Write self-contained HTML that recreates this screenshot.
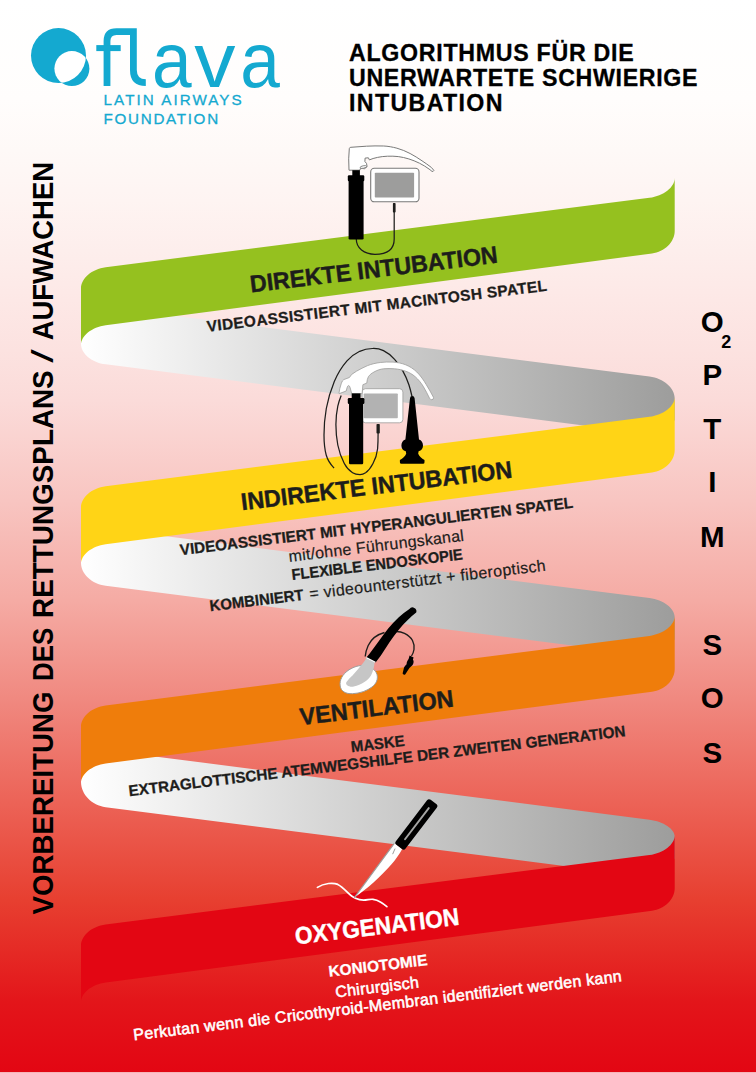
<!DOCTYPE html>
<html lang="de"><head><meta charset="utf-8"><title>Algorithmus für die unerwartete schwierige Intubation</title>
<style>
html,body{margin:0;padding:0;background:#fff;}
body{width:756px;height:1073px;overflow:hidden;font-family:"Liberation Sans",sans-serif;}
svg{display:block;font-family:"Liberation Sans",sans-serif;}
</style></head><body>
<svg width="756" height="1073" viewBox="0 0 756 1073">
<defs>
<linearGradient id="bg" x1="0" y1="0" x2="0" y2="1">
<stop offset="0" stop-color="#ffffff"/>
<stop offset="0.093" stop-color="#fffdfc"/>
<stop offset="0.140" stop-color="#fef9f7"/>
<stop offset="0.187" stop-color="#fef4f2"/>
<stop offset="0.234" stop-color="#fdeeec"/>
<stop offset="0.280" stop-color="#fde8e6"/>
<stop offset="0.327" stop-color="#fce2e0"/>
<stop offset="0.374" stop-color="#fbdbd9"/>
<stop offset="0.467" stop-color="#f8c5c1"/>
<stop offset="0.56" stop-color="#f5aba4"/>
<stop offset="0.654" stop-color="#f0887f"/>
<stop offset="0.748" stop-color="#ec6357"/>
<stop offset="0.84" stop-color="#e73f30"/>
<stop offset="0.935" stop-color="#e3151a"/>
<stop offset="1" stop-color="#e30613"/>
</linearGradient>
<linearGradient id="gg" gradientUnits="userSpaceOnUse" x1="81.0" y1="0" x2="674.7" y2="0">
<stop offset="0" stop-color="#ffffff"/>
<stop offset="1" stop-color="#9d9d9c"/>
</linearGradient>
<clipPath id="bigc"><circle cx="58.5" cy="55.6" r="27.5"/></clipPath>
</defs>
<rect x="0" y="0" width="756" height="1072.3" fill="url(#bg)"/>

<g id="ribbon">
<path d="M81.0,343.9 C81.0,353.5 91.9,362.5 105.7,364.3 L657.5,434.9 L674.7,420.3 L674.7,398.3 C674.7,387.9 663.6,378.3 649.5,376.5 L105.7,307.0 L81.0,323.9 Z" fill="url(#gg)"/>
<path d="M81.0,563.0 C81.0,574.0 91.9,584.0 105.7,585.8 L657.5,656.4 L674.7,639.4 L674.7,617.4 C674.7,608.4 663.6,599.9 649.5,598.1 L105.7,528.6 L81.0,543.0 Z" fill="url(#gg)"/>
<path d="M81.0,782.1 C81.0,794.4 91.9,805.5 105.7,807.3 L657.5,877.9 L674.7,858.5 L674.7,836.5 C674.7,828.9 663.6,821.5 649.5,819.7 L105.7,750.2 L81.0,762.1 Z" fill="url(#gg)"/>
<path d="M674.7,177.9 C674.7,187.2 663.6,195.9 649.5,197.7 L105.7,267.2 C91.9,269.0 81.0,278.3 81.0,288.4 L81.0,344.9 C81.0,335.7 91.9,327.1 105.7,325.2 L652.0,253.5 C664.7,251.8 674.7,241.9 674.7,231.0 Z" fill="#95c11f"/>
<path d="M674.7,397.0 C674.7,406.3 663.6,415.0 649.5,416.8 L105.7,486.3 C91.9,488.1 81.0,497.4 81.0,507.5 L81.0,564.0 C81.0,554.8 91.9,546.2 105.7,544.3 L652.0,472.6 C664.7,470.9 674.7,461.0 674.7,450.1 Z" fill="#ffd416"/>
<path d="M674.7,616.1 C674.7,625.4 663.6,634.1 649.5,635.9 L105.7,705.4 C91.9,707.2 81.0,716.5 81.0,726.6 L81.0,783.1 C81.0,773.9 91.9,765.3 105.7,763.4 L652.0,691.7 C664.7,690.0 674.7,680.1 674.7,669.2 Z" fill="#ef7d0b"/>
<path d="M674.7,835.2 C674.7,844.5 663.6,853.2 649.5,855.0 L105.7,924.5 C91.9,926.3 81.0,935.6 81.0,945.7 L81.0,1002.2 C81.0,993.0 91.9,984.4 105.7,982.5 L652.0,910.8 C664.7,909.1 674.7,899.2 674.7,888.3 Z" fill="#e30613"/>
</g>
<g id="logo" fill="#14a9d0">
<circle cx="58.5" cy="55.6" r="27.5"/>
<circle cx="71.9" cy="68.6" r="17.5"/>
<circle cx="71.9" cy="68.6" r="17.5" fill="#fff" clip-path="url(#bigc)"/>
<g font-size="77">
<text x="152.1" y="86.8" textLength="39.6" lengthAdjust="spacingAndGlyphs">a</text>
<text x="194.3" y="86.8" textLength="41.2" lengthAdjust="spacingAndGlyphs">v</text>
<text x="240.2" y="86.8" textLength="39.6" lengthAdjust="spacingAndGlyphs">a</text>
</g>
<g fill="none" stroke="#14a9d0" stroke-width="6.8">
<path d="M107,86 V41 Q107,31.6 116.5,31.6 H133.4 V70 Q133.4,82.7 145.8,82.7"/>
<path d="M96.3,48.1 H120.7" stroke-width="6"/>
</g>
<g font-size="15.2" stroke="#14a9d0" stroke-width="0.3">
<text x="103.6" y="105" textLength="138" lengthAdjust="spacing">LATIN AIRWAYS</text>
<text x="103.6" y="124" textLength="114.5" lengthAdjust="spacing">FOUNDATION</text>
</g>
</g>

<g id="title" font-weight="bold" font-size="23.2" fill="#000" stroke="#000" stroke-width="0.3">
<text x="349" y="61.4" textLength="284.6" lengthAdjust="spacing">ALGORITHMUS FÜR DIE</text>
<text x="349" y="86.1" textLength="348.5" lengthAdjust="spacing">UNERWARTETE SCHWIERIGE</text>
<text x="349" y="110.8" textLength="153.5" lengthAdjust="spacing">INTUBATION</text>
</g>

<g id="lefttext" transform="translate(53 0) rotate(-90)" font-size="29" font-weight="bold" fill="#000">
<text x="-914.4" y="0" textLength="222.9" lengthAdjust="spacingAndGlyphs">VORBEREITUNG</text>
<text x="-680.9" y="0" textLength="53.3" lengthAdjust="spacingAndGlyphs">DES</text>
<text x="-617.9" y="0" textLength="247.6" lengthAdjust="spacingAndGlyphs">RETTUNGSPLANS</text>
<text x="-362.7" y="0" font-weight="normal" textLength="13.5" lengthAdjust="spacingAndGlyphs">/</text>
<text x="-340.3" y="0" textLength="178.3" lengthAdjust="spacingAndGlyphs">AUFWACHEN</text>
</g>
<g id="optim" font-size="29.5" font-weight="bold" fill="#000" text-anchor="middle">
<text x="712.3" y="331.5">O</text>
<text x="712.3" y="384.7">P</text>
<text x="712.3" y="438.5">T</text>
<text x="712.3" y="492.3">I</text>
<text x="712.3" y="546.5">M</text>
<text x="712.3" y="654.7">S</text>
<text x="712.3" y="708.3">O</text>
<text x="712.3" y="762.5">S</text>
<text x="726.3" y="347.7" font-size="18">2</text>
</g>
<g id="bandtext">
<text x="374.75" y="277.55" font-size="24" font-weight="bold" fill="#1d1d1b" text-anchor="middle" transform="rotate(-6.9 374.75 277.55)" textLength="249.1" lengthAdjust="spacingAndGlyphs" stroke="#1d1d1b" stroke-width="0.45">DIREKTE INTUBATION</text>
<text x="377.4" y="311.3" font-size="15.4" font-weight="bold" fill="#1d1d1b" text-anchor="middle" transform="rotate(-6.9 377.4 311.3)" textLength="342.3" lengthAdjust="spacing" stroke="#1d1d1b" stroke-width="0.3">VIDEOASSISTIERT MIT MACINTOSH SPATEL</text>
<text x="377.5" y="493.9" font-size="24" font-weight="bold" fill="#1d1d1b" text-anchor="middle" transform="rotate(-6.9 377.5 493.9)" textLength="272.8" lengthAdjust="spacingAndGlyphs" stroke="#1d1d1b" stroke-width="0.45">INDIREKTE INTUBATION</text>
<text x="377.1" y="531.45" font-size="15.4" font-weight="bold" fill="#1d1d1b" text-anchor="middle" transform="rotate(-6.9 377.1 531.45)" textLength="395.9" lengthAdjust="spacingAndGlyphs" stroke="#1d1d1b" stroke-width="0.3">VIDEOASSISTIERT MIT HYPERANGULIERTEN SPATEL</text>
<text x="376.8" y="551.3" font-size="16" font-weight="normal" fill="#1d1d1b" text-anchor="middle" transform="rotate(-6.9 376.8 551.3)" textLength="176.1" lengthAdjust="spacing" stroke="#1d1d1b" stroke-width="0.2">mit/ohne Führungskanal</text>
<text x="377.75" y="569.75" font-size="15.4" font-weight="bold" fill="#1d1d1b" text-anchor="middle" transform="rotate(-6.9 377.75 569.75)" textLength="172.3" lengthAdjust="spacingAndGlyphs" stroke="#1d1d1b" stroke-width="0.3">FLEXIBLE ENDOSKOPIE</text>
<g transform="rotate(-6.9 378.2 590.9)" fill="#1d1d1b"><text x="209.1" y="590.90" font-size="15.4" font-weight="bold" stroke="#1d1d1b" stroke-width="0.3" textLength="94.5" lengthAdjust="spacingAndGlyphs">KOMBINIERT</text><text x="309.4" y="590.90" font-size="16" stroke="#1d1d1b" stroke-width="0.2" textLength="238" lengthAdjust="spacing">= videounterstützt + fiberoptisch</text></g>
<text x="377.55" y="715.85" font-size="24" font-weight="bold" fill="#1d1d1b" text-anchor="middle" transform="rotate(-6.9 377.55 715.85)" textLength="154.8" lengthAdjust="spacingAndGlyphs" stroke="#1d1d1b" stroke-width="0.45">VENTILATION</text>
<text x="378.35" y="749.05" font-size="15.4" font-weight="bold" fill="#1d1d1b" text-anchor="middle" transform="rotate(-6.9 378.35 749.05)" textLength="54.1" lengthAdjust="spacingAndGlyphs" stroke="#1d1d1b" stroke-width="0.3">MASKE</text>
<text x="377.6" y="766.15" font-size="15.4" font-weight="bold" fill="#1d1d1b" text-anchor="middle" transform="rotate(-6.9 377.6 766.15)" textLength="500.4" lengthAdjust="spacingAndGlyphs" stroke="#1d1d1b" stroke-width="0.3">EXTRAGLOTTISCHE ATEMWEGSHILFE DER ZWEITEN GENERATION</text>
<text x="377.95" y="934.55" font-size="24" font-weight="bold" fill="#fff" text-anchor="middle" transform="rotate(-6.9 377.95 934.55)" textLength="165.2" lengthAdjust="spacingAndGlyphs" stroke="#fff" stroke-width="0.45">OXYGENATION</text>
<text x="378.55" y="970.9" font-size="15.4" font-weight="bold" fill="#fff" text-anchor="middle" transform="rotate(-6.9 378.55 970.9)" textLength="99.3" lengthAdjust="spacing" stroke="#fff" stroke-width="0.3">KONIOTOMIE</text>
<text x="377.6" y="992.45" font-size="16" font-weight="normal" fill="#fff" text-anchor="middle" transform="rotate(-6.9 377.6 992.45)" textLength="83.9" lengthAdjust="spacing" stroke="#fff" stroke-width="0.55">Chirurgisch</text>
<text x="378.15" y="1010.75" font-size="16" font-weight="normal" fill="#fff" text-anchor="middle" transform="rotate(-6.9 378.15 1010.75)" textLength="491.6" lengthAdjust="spacing" stroke="#fff" stroke-width="0.55">Perkutan wenn die Cricothyroid-Membran identifiziert werden kann</text>
</g>
<g id="icon1">
<!-- cable -->
<path d="M394.2,203 V239 C394.2,250 386,254.3 375,254.3 C364,254.3 356.3,248 356.3,239" fill="none" stroke="#1d1d1b" stroke-width="1.25"/>
<rect x="392.9" y="203" width="2.7" height="9.6" rx="0.8" fill="#1d1d1b"/>
<!-- blade -->
<path d="M349,170.2 L348.7,158.8 L349.3,148.6 Q349.5,147.4 350.8,147.3 L366.5,146.2 C372,145.9 378,145.8 383.7,146 C388,146.2 392.5,147 396.9,148.2 C401.5,149.5 406,151.3 410.1,153.5 C414.3,155.7 418.2,158.2 422,160.8 C425.2,163 428.5,165.2 431.3,167.4 L433.9,170.4 Q433.3,171.8 432,171.4 L430,169.7 C428.3,168.5 426.5,167.2 424.7,166.1 C421.3,164 417.8,162.3 414.1,160.8 C410.6,159.4 407.1,158.3 403.5,157.5 C400,156.7 396.5,156.3 392.9,156.2 C389.3,156.1 385.8,156.2 382.3,156.6 C379.2,157 376.1,157.6 373.1,158.5 L369.4,159.9 L368.4,157.8 L365.1,158.1 L364.9,161.5 L366.5,163.4 L367.1,166.7 L364.5,168.7 L360.5,168.3 L359.8,170.2 Z" fill="#fff" stroke="#7a7a79" stroke-width="1" stroke-linejoin="round"/>
<ellipse cx="363.3" cy="167" rx="3.3" ry="1.2" transform="rotate(-12 363.3 167)" fill="#fff" stroke="#7a7a79" stroke-width="0.8"/>
<!-- handle -->
<rect x="352.3" y="170.2" width="7.6" height="6" fill="#000"/>
<rect x="347.8" y="175.2" width="16.5" height="6" rx="1.2" fill="#000"/>
<rect x="348.6" y="179" width="15" height="60.5" rx="1.2" fill="#000"/>
<!-- screen -->
<rect x="370.7" y="168.3" width="48.3" height="33.5" rx="3.6" fill="#fff" stroke="#7a7a79" stroke-width="1.1"/>
<rect x="374.8" y="172.7" width="39.3" height="24.9" rx="0.8" fill="#9d9d9c"/>
</g>
<g id="icon2">
<!-- outer cable loop (fiberscope) -->
<path d="M412,396.5 C411,392 410,388 408.9,384.7 C407,379 404.8,374.5 402.5,370.4 C400.2,366.3 397.6,362.6 394.6,359.3 C391.3,355.6 387.6,352.6 383.5,350.6 C380,349 376.2,348.3 372.4,348.5 C368,348.7 363.7,349.6 359.7,351.3 C355,353.5 350.8,356.8 347,360.9 C341.8,366.8 337.6,373.8 334.3,381.5 C330.8,390 328.1,399 326.3,408.5 C324.8,417 324,426 324,435 C324,442 324.6,449 326.2,455 C327.6,460 330.6,464.5 334.1,468.1" fill="none" stroke="#1d1d1b" stroke-width="1.25"/>
<!-- inner cable loop (screen) -->
<path d="M378.1,425 V433 C378.1,438.5 378,443.5 377.6,448.7 C377,454 375.5,459 373,463.5 C371.2,467 368.8,470.5 365.6,472.8 C363.8,474 362,474.6 360,474.6 C357.3,474.6 354.8,474.2 352.6,472.8 C349,470.5 346.2,467.2 344.3,463.5 C341.2,457.6 339,451.3 337.8,445 C336.5,438.3 335.9,431.4 335.9,424.6 C335.9,418.4 336.5,412.2 337.8,406.1 C338.6,402.5 339.6,399.5 341.2,395.5" fill="none" stroke="#1d1d1b" stroke-width="1.25"/>
<rect x="376.5" y="424" width="3.3" height="9.5" rx="0.8" fill="#1d1d1b"/>
<!-- screen -->
<rect x="362.1" y="388.7" width="40.8" height="34.1" rx="3.4" fill="#fff" stroke="#9d9d9c" stroke-width="0.8"/>
<rect x="363.7" y="393.4" width="34.1" height="24.9" rx="0.8" fill="#b2b2b2"/>
<!-- blade -->
<path d="M339,393 L339.8,388.5 L341.4,383.1 Q342.2,380.6 343.8,379.6 L349.4,377.5 L351.7,374.4 L356.5,371.2 C360,369.2 363.8,367.2 367.6,365.6 C371.7,364 376,363 380.3,362.5 C384.5,362 388.8,361.9 393,362.1 C397.4,362.4 401.7,363.2 405.7,364.8 C409.9,366.5 413.6,368.9 416.8,372 C420.6,375.7 423.6,380.1 426.3,384.7 C428.9,388.9 431.3,393.1 433.5,397.4 Q433.6,399.8 431.9,399.8 Q430.4,399.7 429.5,398.2 C427.6,394.2 425.5,390.2 423.2,386.3 C421,382.8 418.4,379.5 415.2,376.7 C412.4,374.3 409.2,372.4 405.7,371.2 C402.1,369.9 398.4,369.1 394.6,368.8 C390.9,368.5 387.2,368.5 383.5,368.8 C380.2,369.2 376.9,370.3 374,372 C371.6,373.3 369.7,374.8 368.4,376.7 C367.4,378.5 367,380.7 366.8,383.1 L362.9,384.7 L362.1,393.6 L351.7,393.6 L350.2,387.9 Q349.6,385.6 348.6,385.5 Q347.5,385.7 347,387.9 L346.2,391 L339.3,393.6 Z" fill="#fff" stroke="#9d9d9c" stroke-width="0.8" stroke-linejoin="round"/>
<!-- handle -->
<rect x="351.7" y="393.4" width="8.8" height="6" fill="#000"/>
<rect x="347.8" y="398" width="16.6" height="6" rx="1.2" fill="#000"/>
<rect x="349" y="402" width="14.2" height="62.2" rx="1.2" fill="#000"/>
<!-- fiberscope -->
<path d="M410,398.2 Q410.2,396 412.2,396 Q414.3,396 414.6,398.2 L419,439.5 C421.5,440.3 423,442.5 423,445.5 C423,448.5 421.5,450.5 418.6,451.2 L418.2,453.8 C419.5,456.5 421.5,458.5 424.5,460 L424.5,462.2 Q424.5,463.8 423,463.8 L401.4,463.8 Q399.9,463.8 399.9,462.2 L399.9,460 C402.9,458.5 404.9,456.5 406.2,453.8 L405.8,451.2 C402.9,450.5 401.4,448.5 401.4,445.5 C401.4,442.5 402.9,440.3 405.4,439.5 Z" fill="#000"/>
</g>
<g id="icon3">
<!-- pilot lines -->
<path d="M384.5,632.5 C377,634.5 371,639.5 368.2,645.5 C366.4,649.5 365.4,653 365.2,656.5" fill="none" stroke="#1d1d1b" stroke-width="1.35"/>
<path d="M394,631.6 C398,631.2 401.5,631.8 404.5,633.3 C408.3,635.2 411,637.5 412.5,640.5 C414,643.5 414.5,646.5 414,649.5 C413.6,652 412.8,654 411.5,656" fill="none" stroke="#1d1d1b" stroke-width="1.35"/>
<!-- pilot balloon -->
<path d="M409.6,655.4 L413.6,657.6 L412.9,659.6 C414,661 413.8,663.2 412.6,665 C411.4,666.6 409.6,667.6 408.6,669.2 L405.2,674.4 Q403.4,675.4 402.6,673.6 L403.8,668.6 C404.2,666.8 405.2,665.4 406.6,664.2 C406.6,662.4 407.4,660.6 408.6,659 Z" fill="#000"/>
<!-- cuff -->
<path d="M340.2,686 C339.3,680 342.5,674.5 348,670.5 C353,667 359,665 364.5,665.6 C371,666.3 375.6,669.8 377,674.5 C378.2,679 376.5,683.5 372,687 C367,690.8 360,693.4 352.5,693.7 C345.5,694 341,691.3 340.2,686 Z" fill="#fff" stroke="#9d9d9c" stroke-width="1"/>
<!-- mask body -->
<path d="M366.8,657.6 L374.6,662 C374.2,667 373.2,671.5 371,675.4 C369.2,678.2 367,680.3 364.4,682 C361.2,684 357.6,685.7 353.8,686.6 C351.3,687.1 348.7,686.6 347.2,685.3 C345.9,684.2 345.8,683 346.5,682 C348.2,679.5 350.3,677.4 352.5,675.4 C355.5,672 358.7,668.5 361.7,664.8 C363.6,662.5 365.3,660.2 366.8,657.6 Z" fill="#c6c6c6"/>
<!-- tube -->
<path d="M409.4,609 C405.5,611.5 402,614.2 398.8,617.2 C395,620.7 391.5,624.4 388.2,628.4 C384.9,632.5 381.9,636.7 378.9,641 L369.7,653.6 L366,657.9 L375.6,662.4 L380.9,655.6 L389.5,642.3 C392.4,638 395.4,633.8 398.8,629.8 C401.7,626.3 404.7,622.9 408,619.8 C410.5,617.3 413.2,614.9 416.2,612.6 A3.9,3.9 0 0 0 409.4,609 Z" fill="#000"/>
<path d="M366.2,657.6 L375.4,662.2" stroke="#fff" stroke-width="1.2" fill="none"/>
</g>
<g id="icon4">
<!-- incision line -->
<path d="M317.4,887.4 C320.5,885.4 324.5,884 328.5,883.5 C332,883.1 335,883.2 337.8,884.4 C341.2,886 344.2,889 347,891.9 C349.7,894.6 352.3,897 355.4,898.3 C358,899.5 360.8,900.2 363.7,900.2 C367,900.2 370,899 373,899.3 C375.8,899.6 378.2,900.6 380.4,902 C382.8,903.4 384.9,905 386.9,906.7" fill="none" stroke="#fff" stroke-width="1.7" stroke-linecap="round"/>
<!-- blade -->
<path d="M394.6,843.2 L402.2,849 C399.3,854.2 395.8,859.6 391.3,864.6 C386,870.6 380,876.8 373.5,882.6 C367.5,888 361,893 354.4,897.6 Z" fill="#fff"/>
<path d="M394.3,843.4 L354.4,897.6" stroke="#9d9d9c" stroke-width="1.1" fill="none"/>
<path d="M394.9,849 L392.8,853.8" stroke="#9d9d9c" stroke-width="1" stroke-linecap="round" fill="none"/>
<!-- handle -->
<g transform="rotate(37.3 416.4 824.4)">
<rect x="410.3" y="796.2" width="12.2" height="56.6" rx="2.6" fill="#000"/>
<rect x="415.4" y="803" width="1.9" height="41" rx="0.9" fill="#a5a5a4"/>
</g>
</g>

</svg></body></html>
